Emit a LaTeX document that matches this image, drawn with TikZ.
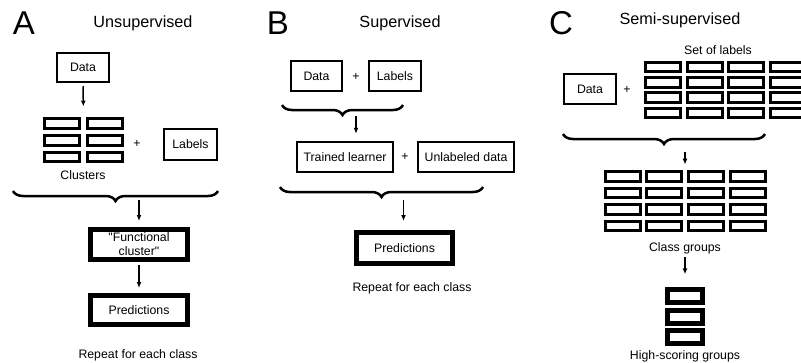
\documentclass[tikz,border=0pt]{standalone}
\usepackage{fontspec}
\setmainfont{Liberation Sans}[Ligatures=TeXOff]
\usetikzlibrary{fit,positioning,calc,decorations.pathreplacing,arrows.meta}

\tikzset{
  box/.style={draw, line width=2.5pt, inner sep=0pt},
  thickbox/.style={draw, line width=5pt, inner sep=0pt},
  cell/.style={draw, line width=3pt, inner sep=0pt, minimum width=35pt,
    minimum height=9.5pt},
  hsbox/.style={draw, line width=5pt, inner sep=0pt, minimum width=35pt,
    minimum height=13pt},
  brc/.style={decorate, decoration={brace, amplitude=10pt}, line width=2.5pt},
  arr/.style={-{Latex[length=6pt,width=5pt]}, line width=1.5pt},
  ltr/.style={font=\fontsize{33}{36}\selectfont},
  ttl/.style={font=\fontsize{16.2}{19}\selectfont}
}

\begin{document}
\begin{tikzpicture}[x=1pt, y=-1pt, font=\fontsize{12.3}{14}\selectfont]
      \useasboundingbox (0,0) rectangle (801,362);
      \clip (0,0) rectangle (801,362);

      % A: unsupervised
      \node[ltr] (ltrA) at (24,23) {A}; \node[ttl] (ttlA) at (143,23)
      {Unsupervised};
      \node[fit={(57,53) (109,82)}, box] (dataA) {}; \node (dataAt) at
      (dataA.center) {Data};
      \foreach \c/\x in {1/62,2/105} \foreach \r/\y in {1/123.5,2/140.5,3/157}
        \node[cell] (clA-\c-\r) at (\x,\y) {};
      \node[fit=(clA-1-1) (clA-2-3), inner sep=1.5pt] (clsA) {};
      \node (clsAt) at (83,175) {Clusters};
      \draw[arr, shorten <=3pt, shorten >=9pt] (dataA.south) -- (clsA.north);
      \node (plA) at (137,144) {+};
      \node[fit={(164,129) (217,160)}, box] (labA) {}; \node (labAt) at
      (labA.center) {Labels};

      \coordinate (brAr) at (218,191); \coordinate (brAl) at (13,191);
      \draw[brc] (brAr) -- (brAl);
      \node[fit={(90.5,229.5) (187.5,259.5)}, thickbox] (funcA) {};
      \node[align=center] (funcAt) at (funcA.center) {"Functional\\cluster"};
      \coordinate (arA) at (139,200);
      \draw[arr, shorten >=6pt] (arA) -- (funcA.north);
      \node[fit={(90.5,295.5) (187.5,324.5)}, thickbox] (predA) {};
      \node (predAt) at (predA.center) {Predictions};
      \draw[arr, shorten <=3pt, shorten >=5pt] (funcA.south) -- (predA.north);
      \node (repA) at (138,355) {Repeat for each class};

      % B: supervised
      \node[ltr] (ltrB) at (278,23) {B}; \node[ttl] (ttlB) at (400,23)
      {Supervised};
      \node[fit={(291,61) (342,91)}, box] (dataB) {}; \node (dataBt) at
      (dataB.center) {Data}; \node (plB1) at (356,77) {+};
      \node[fit={(369,61) (421,91)}, box] (labB) {}; \node (labBt) at
      (labB.center) {Labels};
      \coordinate (brB1r) at (403,105); \coordinate (brB1l) at (282,105);
      \draw[brc] (brB1r) -- (brB1l);

      \node[fit={(297,142) (393,172)}, box] (trainB) {}; \node (trainBt) at
      (trainB.center) {Trained learner}; \node (plB2) at (405,157) {+};
      \node[fit={(418,142) (514,172)}, box] (unlabB) {}; \node (unlabBt) at
      (unlabB.center) {Unlabeled data};
      \coordinate (arB1) at (356,116);
      \draw[arr, shorten >=7pt] (arB1) -- (arB1 |- trainB.north);

      \coordinate (brB2r) at (483,187); \coordinate (brB2l) at (280,187);
      \draw[brc] (brB2r) -- (brB2l);
      \node[fit={(356.5,232.5) (452.5,263.5)}, thickbox] (predB) {};
      \node (predBt) at (predB.center) {Predictions};
      \coordinate (arB2) at (403.5,200);
      \draw[arr, shorten >=9pt] (arB2) -- (arB2 |- predB.north);
      \node (repB) at (412,288) {Repeat for each class};

      % C: semi-supervised
      \node[ltr] (ltrC) at (561,23) {C}; \node[ttl] (ttlC) at (680,20)
      {Semi-supervised}; \node (setC) at (718,50) {Set of labels};
      \node[fit={(564,74) (616,104)}, box] (dataC) {}; \node (dataCt) at
      (dataC.center) {Data}; \node (plC) at (627,90) {+};
      \foreach \c/\x in {1/663,2/704.7,3/746.4,4/788.1}
        \foreach \r/\y in {1/67,2/82.3,3/97.6,4/113}
          \node[cell] (lbC-\c-\r) at (\x,\y) {};

      \coordinate (brCr) at (765,134); \coordinate (brCl) at (563,134);
      \draw[brc] (brCr) -- (brCl);
      \foreach \c/\x in {1/622.5,2/664.2,3/705.9,4/747.6}
        \foreach \r/\y in {1/176.5,2/193,3/209.5,4/226}
          \node[cell] (cgC-\c-\r) at (\x,\y) {};
      \node[fit=(cgC-1-1) (cgC-4-4), inner sep=1.5pt] (cgC) {};
      \coordinate (arC1) at (685,152);
      \draw[arr, shorten >=4pt] (arC1) -- (arC1 |- cgC.north);
      \node (cgCt) at (685,248) {Class groups};

      \foreach \r/\y in {1/296,2/316.5,3/337}
        \node[hsbox] (hsC-\r) at (685,\y) {};
      \node[fit=(hsC-1) (hsC-3), inner sep=2.5pt] (hsC) {};
      \coordinate (arC2) at (685,257);
      \draw[arr, shorten >=10pt] (arC2) -- (arC2 |- hsC.north);
      \node (hsCt) at (685,356) {High-scoring groups};
    \end{tikzpicture}
\end{document}
